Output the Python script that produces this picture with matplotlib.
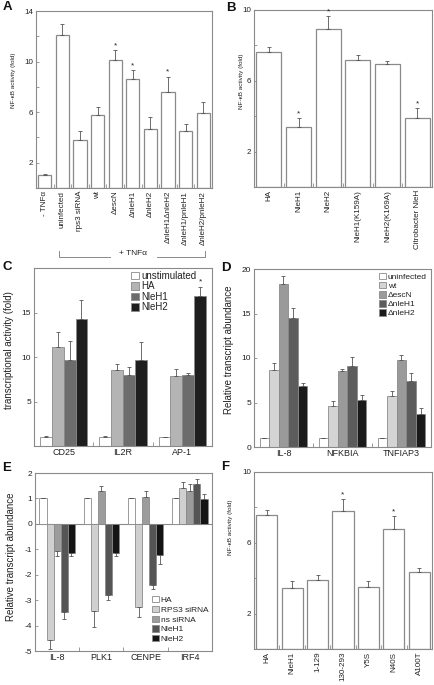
import matplotlib
matplotlib.use('Agg')
import matplotlib.pyplot as plt
import numpy as np
from matplotlib.patches import Patch

plt.rcParams['font.family'] = ['Liberation Sans', 'DejaVu Sans']

# ---------------- data ----------------
A_labels = ['- TNFα', 'uninfected', 'rps3 siRNA', 'wt', 'ΔescN', 'ΔnleH1', 'ΔnleH2',
            'ΔnleH1ΔnleH2', 'ΔnleH1/pnleH1', 'ΔnleH2/pnleH2']
A_vals = [1.0, 12.1, 3.8, 5.8, 10.1, 8.6, 4.7, 7.6, 4.5, 5.9]
A_err = [0.1, 0.9, 0.7, 0.6, 0.8, 0.7, 0.9, 1.2, 0.6, 0.9]
A_sig = [0, 0, 0, 0, 1, 1, 0, 1, 0, 0]

B_labels = ['HA', 'NleH1', 'NleH2', 'NleH1(K159A)', 'NleH2(K169A)', 'Citrobacter NleH']
B_vals = [7.6, 3.4, 8.95, 7.15, 6.95, 3.9]
B_err = [0.3, 0.5, 0.7, 0.3, 0.17, 0.55]
B_sig = [0, 1, 1, 0, 0, 1]

C_groups = ['CD25', 'IL2R', 'AP-1']
C_series = ['unstimulated', 'HA', 'NleH1', 'NleH2']
C_unstim = [1.0, 1.0, 1.0]
C_unstim_err = [0.12, 0.12, 0.0]
C_HA = [11.15, 8.5, 7.9]
C_HA_err = [1.7, 0.75, 0.7]
C_H1 = [9.7, 8.0, 8.0]
C_H1_err = [2.1, 0.9, 0.22]
C_H2 = [14.3, 9.7, 16.9]
C_H2_err = [2.1, 1.95, 1.0]
C_sig = [[0, 0, 0], [0, 0, 0], [0, 0, 0], [0, 0, 1]]

D_groups = ['IL-8', 'NFKBIA', 'TNFIAP3']
D_series = ['uninfected', 'wt', 'ΔescN', 'ΔnleH1', 'ΔnleH2']
D_uninf = [1.0, 1.0, 1.0]
D_uninf_err = [0.0, 0.0, 0.0]
D_wt = [8.6, 4.6, 5.7]
D_wt_err = [0.8, 0.6, 0.55]
D_escN = [18.35, 8.55, 9.8]
D_escN_err = [0.85, 0.2, 0.55]
D_H1 = [14.45, 9.15, 7.45]
D_H1_err = [1.2, 1.0, 0.9]
D_H2 = [6.9, 5.25, 3.75]
D_H2_err = [0.3, 0.6, 0.65]

E_groups = ['IL-8', 'PLK1', 'CENPE', 'IRF4']
E_series = ['HA', 'RPS3 siRNA', 'ns siRNA', 'NleH1', 'NleH2']
E_HA = [1.0, 1.0, 1.0, 1.0]
E_HA_err = [0.0, 0.0, 0.0, 0.0]
E_RPS3 = [-4.55, -3.43, -3.25, 1.42]
E_RPS3_err = [0.38, 0.62, 0.4, 0.22]
E_ns = [-1.06, 1.3, 1.07, 1.3]
E_ns_err = [0.22, 0.17, 0.23, 0.25]
E_H1 = [-3.45, -2.78, -2.39, 1.55]
E_H1_err = [0.3, 0.2, 0.18, 0.22]
E_H2 = [-1.15, -1.13, -1.23, 0.98]
E_H2_err = [0.12, 0.12, 0.33, 0.2]

F_labels = ['HA', 'NleH1', '1-129', '130-293', 'Y5S', 'N40S', 'A100T']
F_vals = [7.55, 3.45, 3.9, 7.8, 3.5, 6.8, 4.35]
F_err = [0.3, 0.4, 0.27, 0.67, 0.33, 0.7, 0.22]
F_sig = [0, 0, 0, 1, 0, 1, 0]

# ---------------- layout ----------------
W, H = 435, 685
fig = plt.figure(figsize=(W / 100, H / 100), dpi=100)


def rect(l, r, t, b):
    return [l / W, 1 - b / H, (r - l) / W, (b - t) / H]


EDGE = '#8a8a8a'
ECOL = '#555555'
TXT = '#222222'


def style(ax, ylim, yticks, ylabels, nslots, label_xy, ylabel, ylabel_fs, tick_fs):
    for s in ax.spines.values():
        s.set_color(EDGE)
        s.set_linewidth(0.8)
    ax.set_ylim(*ylim)
    ax.set_yticks(yticks)
    ax.set_yticklabels(ylabels, fontsize=tick_fs, color=TXT)
    ax.tick_params(axis='y', direction='in', length=2.5, width=0.6, color=EDGE, pad=2)
    ax.set_xlim(-0.5, nslots - 0.5)
    ax.set_xticks(np.arange(nslots - 1) + 0.5, minor=True)
    ax.tick_params(axis='x', which='minor', direction='in', length=3, width=0.6, color=EDGE)
    ax.set_ylabel(ylabel, fontsize=ylabel_fs, color=TXT)
    ax.yaxis.set_label_coords(*label_xy)


def simple_bars(ax, labels, vals, errs, sig, width, fs):
    x = np.arange(len(vals))
    ax.bar(x, vals, width=width, color='white', edgecolor=EDGE, linewidth=0.9, zorder=2)
    ax.errorbar(x, vals, yerr=[np.zeros(len(vals)), errs], fmt='none', ecolor=ECOL,
                elinewidth=0.6, capsize=1.6, capthick=0.6, zorder=3)
    rng = ax.get_ylim()[1] - ax.get_ylim()[0]
    for xi, v, e, s in zip(x, vals, errs, sig):
        if s:
            ax.text(xi, v + e + 0.005 * rng, '*', ha='center', va='bottom', fontsize=6, color=TXT)
    ax.set_xticks(x)
    ax.set_xticklabels(labels, rotation=90, fontsize=fs, color=TXT)
    ax.tick_params(axis='x', which='major', length=0, pad=2)


def grouped(ax, groups, series_vals, series_errs, colors, width):
    n = len(series_vals)
    x = np.arange(len(groups))
    for k, (vals, errs, c) in enumerate(zip(series_vals, series_errs, colors)):
        pos = x - width * n / 2 + width * (k + 0.5)
        vals = np.array(vals)
        errs = np.array(errs)
        lo = np.where(vals < 0, errs, 0)
        hi = np.where(vals >= 0, errs, 0)
        ax.bar(pos, vals, width=width, color=c, edgecolor=EDGE, linewidth=0.6, zorder=2)
        ax.errorbar(pos, vals, yerr=[lo, hi], fmt='none', ecolor=ECOL,
                    elinewidth=0.6, capsize=1.4, capthick=0.6, zorder=3)
    ax.set_xticks(x)
    ax.set_xticklabels(groups, fontsize=6.5, color=TXT)
    ax.tick_params(axis='x', which='major', length=0, pad=1.5)
    return x


def legend(ax, labels, colors, xy, fs, spacing):
    handles = [Patch(facecolor=c, edgecolor=EDGE, linewidth=0.6) for c in colors]
    lg = ax.legend(handles, labels, loc='upper left',
                   bbox_to_anchor=(xy[0] / W, 1 - xy[1] / H), bbox_transform=fig.transFigure,
                   frameon=False, fontsize=fs, handlelength=0.8, handleheight=0.8,
                   handletextpad=0.25, labelspacing=spacing, borderpad=0, borderaxespad=0)
    for t in lg.get_texts():
        t.set_color(TXT)


def letter(x, y, s):
    fig.text(x / W, 1 - y / H, s, fontsize=9.5, fontweight='bold', ha='left', va='center', color='#111111')


# ---------------- A ----------------
axA = fig.add_axes(rect(36, 212, 11, 188))
style(axA, (0, 14), [2, 4, 6, 8, 10, 12, 14], ['2', '', '6', '', '10', '', '14'], len(A_vals),
      (-0.116, 0.61), 'NF-κB activity (fold)', 4.6, 5.8)
simple_bars(axA, A_labels, A_vals, A_err, A_sig, 0.76, 5.8)
# bracket "+ TNFα"
yb = 1 - 257 / H
ye = 1 - 251 / H
from matplotlib.transforms import blended_transform_factory
tr = blended_transform_factory(axA.transData, fig.transFigure)
axA.plot([0.8, 0.8, 3.7], [ye, yb, yb], transform=tr, color=EDGE, lw=0.7, clip_on=False)
axA.plot([6.35, 9.1, 9.1], [yb, yb, ye], transform=tr, color=EDGE, lw=0.7, clip_on=False)
axA.text(5.0, 1 - 254 / H, '+ TNFα', transform=tr, ha='center', va='center', fontsize=6, color=TXT)
letter(3, 7, 'A')

# ---------------- B ----------------
axB = fig.add_axes(rect(254, 432, 10, 187))
style(axB, (0, 10), [2, 4, 6, 8, 10], ['2', '', '6', '', '10'], len(B_vals),
      (-0.055, 0.60), 'NF-κB activity (fold)', 4.6, 5.8)
simple_bars(axB, B_labels, B_vals, B_err, B_sig, 0.84, 5.8)
letter(226, 8, 'B')

# ---------------- C ----------------
axC = fig.add_axes(rect(34, 212, 268, 446))
style(axC, (0, 20), [5, 10, 15], ['5', '10', '15'], len(C_groups),
      (-0.11, 0.54), 'transcriptional activity (fold)', 7, 6)
C_colors = ['white', '#b4b4b4', '#6c6c6c', '#1e1e1e']
xc = grouped(axC, C_groups, [C_unstim, C_HA, C_H1, C_H2],
             [C_unstim_err, C_HA_err, C_H1_err, C_H2_err], C_colors, 0.2)
for k, (vals, errs) in enumerate(zip([C_unstim, C_HA, C_H1, C_H2],
                                     [C_unstim_err, C_HA_err, C_H1_err, C_H2_err])):
    for g in range(len(C_groups)):
        if C_sig[k][g]:
            axC.text(xc[g] - 0.4 + 0.2 * (k + 0.5), vals[g] + errs[g] + 0.1, '*',
                     ha='center', va='bottom', fontsize=6, color=TXT)
legend(axC, C_series, C_colors, (131, 271), 7, 0.05)
letter(3, 267, 'C')

# ---------------- D ----------------
axD = fig.add_axes(rect(254, 431, 269, 447))
style(axD, (0, 20), [0, 5, 10, 15, 20], ['0', '5', '10', '15', '20'], len(D_groups),
      (-0.113, 0.545), 'Relative transcript abundance', 7, 6)
D_colors = ['white', '#d4d4d4', '#9a9a9a', '#5c5c5c', '#1a1a1a']
grouped(axD, D_groups, [D_uninf, D_wt, D_escN, D_H1, D_H2],
        [D_uninf_err, D_wt_err, D_escN_err, D_H1_err, D_H2_err], D_colors, 0.162)
legend(axD, D_series, D_colors, (379, 273), 6, 0.12)
letter(221, 268, 'D')

# ---------------- E ----------------
axE = fig.add_axes(rect(35, 212, 473, 651))
style(axE, (-5, 2), [-5, -4, -3, -2, -1, 0, 1, 2], ['-5', '-4', '-3', '-2', '-1', '0', '1', '2'],
      len(E_groups), (-0.105, 0.53), 'Relative transcript abundance', 7, 6)
axE.axhline(0, color=EDGE, lw=0.8, zorder=1)
E_colors = ['white', '#d0d0d0', '#9c9c9c', '#555555', '#141414']
grouped(axE, E_groups, [E_HA, E_RPS3, E_ns, E_H1, E_H2],
        [E_HA_err, E_RPS3_err, E_ns_err, E_H1_err, E_H2_err], E_colors, 0.16)
legend(axE, E_series, E_colors, (152, 596), 6, 0.2)
letter(2, 468, 'E')

# ---------------- F ----------------
axF = fig.add_axes(rect(254, 432, 472, 649))
style(axF, (0, 10), [2, 4, 6, 8, 10], ['2', '', '6', '', '10'], len(F_vals),
      (-0.118, 0.69), 'NF-κB activity (fold)', 4.6, 5.8)
simple_bars(axF, F_labels, F_vals, F_err, F_sig, 0.83, 5.8)
letter(221, 467, 'F')

fig.savefig('out.png', dpi=100)
